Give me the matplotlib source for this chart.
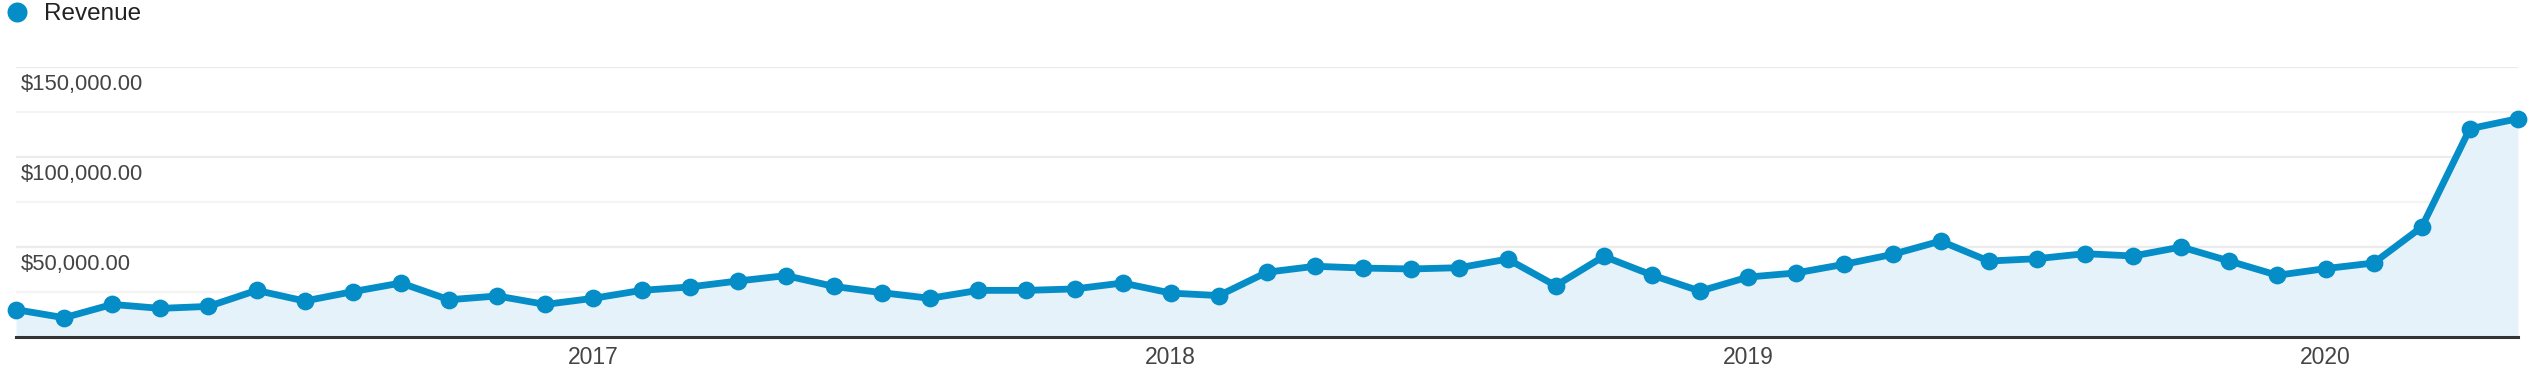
import matplotlib
matplotlib.use("Agg")
import matplotlib.pyplot as plt
from matplotlib.lines import Line2D
from matplotlib.ticker import FixedLocator

# ---- data (monthly revenue, Jan 2016 .. May 2020) ----
months = [f"{y}-{m:02d}" for y in range(2016, 2021) for m in range(1, 13)][:53]
revenue = [
    15200, 10700, 18100, 15900, 17000, 25900, 20000, 25200, 30000, 20700, 22800, 18100,   # 2016
    21500, 25900, 27800, 31100, 34100, 28100, 24600, 21500, 25900, 25900, 26700, 30000,   # 2017
    24400, 23000, 36000, 39300, 38300, 37800, 38500, 43300, 28500, 44800, 34400, 25500,   # 2018
    33300, 35600, 40400, 45900, 53300, 42200, 43500, 46300, 45000, 50000, 42200, 34300,   # 2019
    38000, 41100, 61100, 115700, 121300,                                                  # 2020
]
series_name = "Revenue"
year_ticks = ["2017-01", "2018-01", "2019-01", "2020-01"]
year_labels = ["2017", "2018", "2019", "2020"]
y_major = [50000, 100000, 150000]
y_minor = [25000, 75000, 125000]
y_labels = ["$50,000.00", "$100,000.00", "$150,000.00"]

BLUE = "#058dc7"
FILL = "#e6f2f9"
plt.rcParams["font.family"] = ["Liberation Sans", "DejaVu Sans"]

W, H = 2535, 376
fig = plt.figure(figsize=(W / 100, H / 100), dpi=100)
left, right, bottom, top = 16, 2518, 337, 67
ax = fig.add_axes([left / W, (H - bottom) / H, (right - left) / W, (bottom - top) / H])

x = list(range(len(revenue)))
ax.fill_between(x, revenue, 0, color=FILL, linewidth=0, zorder=1)
ax.plot(x, revenue, color=BLUE, lw=4.9, marker="o", markersize=12.8, markeredgewidth=0,
        solid_joinstyle="round", clip_on=False, zorder=3)

ax.set_xlim(0, len(revenue) - 1)
ax.set_ylim(0, 150000)

# grid
ax.yaxis.set_major_locator(FixedLocator(y_major))
ax.yaxis.set_minor_locator(FixedLocator(y_minor))
ax.grid(axis="y", which="major", color="#ebebeb", lw=1.6, zorder=0)
ax.grid(axis="y", which="minor", color="#f4f4f4", lw=1.6, zorder=0)
ax.set_axisbelow(True)
ax.tick_params(axis="y", which="both", length=0, labelleft=False)

for v, lab in zip(y_major, y_labels):
    ax.annotate(lab, xy=(0, v), xycoords=("axes fraction", "data"),
                xytext=(3.7, -12.4), textcoords="offset points",
                ha="left", va="center", fontsize=15.8, color="#444444", zorder=4)

# x ticks
xt = [months.index(m) for m in year_ticks]
ax.set_xticks(xt)
ax.set_xticklabels(year_labels)
ax.tick_params(axis="x", length=0, pad=6.3, labelsize=16.5, labelcolor="#444444")

for s in ["top", "right", "left"]:
    ax.spines[s].set_visible(False)
ax.spines["bottom"].set_color("#333333")
ax.spines["bottom"].set_linewidth(2.2)
ax.spines["bottom"].set_zorder(5)

# legend
handle = Line2D([], [], marker="o", ls="none", color=BLUE, markersize=14.4, markeredgewidth=0)
fig.legend([handle], [series_name], loc="upper left",
           bbox_to_anchor=(5 / W, 1 - 3 / H), frameon=False, borderaxespad=0,
           borderpad=0, handlelength=1.0, handletextpad=0.62, fontsize=17.5,
           labelcolor="#222222")

fig.savefig("out.png", dpi=100)
